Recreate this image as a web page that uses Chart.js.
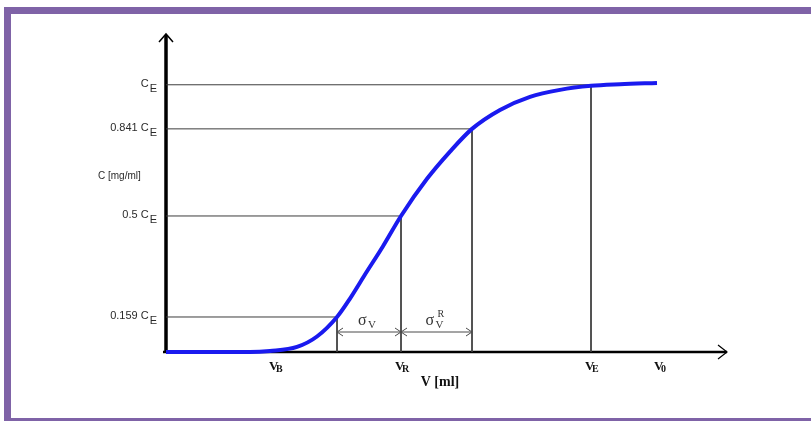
<!DOCTYPE html>
<html>
<head>
<meta charset="utf-8">
<script src="https://cdn.jsdelivr.net/npm/chart.js@4"></script>
<style>
  html, body { margin: 0; padding: 0; background: #fff; }
  #wrap { position: relative; width: 811px; height: 421px; overflow: hidden; }
  #frame { position: absolute; left: 4px; top: 7px; width: 900px; height: 404px;
           border-top: 7px solid #7f63a7; border-left: 7px solid #7f63a7; border-bottom: 6px solid #7f63a7; }
  canvas { position: absolute; left: 0; top: 0; }
</style>
</head>
<body>
<div id="wrap">
  <div id="frame"></div>
  <canvas id="chart" width="811" height="421"></canvas>
</div>
<script>
// breakthrough curve (C in units of C_E)
const curveV = [0, 8.4, 10.4, 13.1, 15.1, 17.1, 18.4, 19.9, 21.7, 23.5, 26.1, 28.4, 30.6, 33.4, 36.4, 39.4, 42.5, 45.4, 49.1];
const curveC = [0, 0, 0.004, 0.019, 0.058, 0.131, 0.200, 0.290, 0.396, 0.509, 0.648, 0.750, 0.835, 0.906, 0.955, 0.981, 0.996, 1.002, 1.007];

// guide levels on the C axis and where they meet the curve
const levelText  = ['0.159 ', '0.5 ', '0.841 ', ''];
const levelC     = [0.131, 0.509, 0.835, 1.0];
const levelV     = [17.1, 23.5, 30.6, 42.5];

// marks on the V axis
const vMarks  = [10.9, 23.5, 42.5, 49.4];
const vSubs   = ['B', 'R', 'E', '0'];

const X_MAX = 56.1;
const Y_MAX = 1.19;

const guideSets = levelC.map((c, i) => ({
  data: [{ x: 0, y: c }, { x: levelV[i], y: c }, { x: levelV[i], y: 0 }],
  borderColor: '#3c3c3c',
  borderWidth: 1,
  pointRadius: 0,
  tension: 0,
  clip: false,
  order: 2,
}));

const axesPlugin = {
  id: 'axes',
  beforeDatasetsDraw(chart) {
    const { ctx, chartArea: a } = chart;
    ctx.save();
    ctx.strokeStyle = '#000';
    // y axis
    ctx.lineWidth = 3.5;
    ctx.beginPath();
    ctx.moveTo(a.left, a.bottom + 1);
    ctx.lineTo(a.left, a.top + 1);
    ctx.stroke();
    ctx.lineWidth = 1.5;
    ctx.beginPath();
    ctx.moveTo(a.left - 7, a.top + 8);
    ctx.lineTo(a.left, a.top);
    ctx.lineTo(a.left + 7, a.top + 8);
    ctx.stroke();
    // x axis
    ctx.lineWidth = 2.5;
    ctx.beginPath();
    ctx.moveTo(a.left - 3, a.bottom);
    ctx.lineTo(a.right, a.bottom);
    ctx.stroke();
    ctx.lineWidth = 1.2;
    ctx.beginPath();
    ctx.moveTo(a.right - 9, a.bottom - 7);
    ctx.lineTo(a.right, a.bottom);
    ctx.lineTo(a.right - 9, a.bottom + 7);
    ctx.stroke();
    ctx.restore();
  },
  afterDraw(chart) {
    const { ctx, chartArea: a, scales: { x, y } } = chart;
    ctx.save();
    ctx.fillStyle = '#2a2a2a';
    ctx.textBaseline = 'alphabetic';

    // y labels: "<k> C_E"
    levelC.forEach((c, i) => {
      const py = y.getPixelForValue(c);
      const right = a.left - 9;
      ctx.font = '11px "Liberation Sans", Arial, sans-serif';
      ctx.textAlign = 'right';
      ctx.fillText('E', right, py + 7);
      const wE = ctx.measureText('E').width;
      ctx.fillText(levelText[i] + 'C', right - wE - 1, py + 2);
    });
    ctx.font = '10px "Liberation Sans", Arial, sans-serif';
    ctx.textAlign = 'left';
    ctx.fillText('C [mg/ml]', 98, 179);

    // V axis marks
    ctx.fillStyle = '#111';
    vMarks.forEach((v, i) => {
      const px = x.getPixelForValue(v);
      ctx.font = 'bold 13px "Liberation Serif", "Times New Roman", serif';
      ctx.textAlign = 'left';
      ctx.fillText('V', px - 6, a.bottom + 18);
      ctx.font = 'bold 10px "Liberation Serif", "Times New Roman", serif';
      ctx.fillText(vSubs[i], px + 1, a.bottom + 20);
    });
    ctx.font = 'bold 14px "Liberation Serif", "Times New Roman", serif';
    ctx.textAlign = 'center';
    ctx.fillText('V [ml]', x.getPixelForValue(27.4), a.bottom + 34);

    // sigma arrows
    const ay = a.bottom - 20;
    const x1 = x.getPixelForValue(levelV[0]);
    const x2 = x.getPixelForValue(levelV[1]);
    const x3 = x.getPixelForValue(levelV[2]);
    ctx.strokeStyle = '#4a4a4a';
    ctx.lineWidth = 1;
    ctx.beginPath();
    ctx.moveTo(x1, ay); ctx.lineTo(x3, ay);
    [[x1, 1], [x2, -1], [x2, 1], [x3, -1]].forEach(([px, d]) => {
      ctx.moveTo(px + d * 6, ay - 4); ctx.lineTo(px, ay); ctx.lineTo(px + d * 6, ay + 4);
    });
    ctx.stroke();

    ctx.fillStyle = '#333';
    ctx.textAlign = 'left';
    ctx.font = '16px "Liberation Serif", "Times New Roman", serif';
    ctx.fillText('\u03C3', (x1 + x2) / 2 - 11, ay - 7);
    ctx.font = '11px "Liberation Serif", "Times New Roman", serif';
    ctx.fillText('V', (x1 + x2) / 2 - 1, ay - 4);
    ctx.font = '16px "Liberation Serif", "Times New Roman", serif';
    ctx.fillText('\u03C3', (x2 + x3) / 2 - 11, ay - 7);
    ctx.font = '11px "Liberation Serif", "Times New Roman", serif';
    ctx.fillText('V', (x2 + x3) / 2 - 1, ay - 4);
    ctx.font = '10px "Liberation Serif", "Times New Roman", serif';
    ctx.fillText('R', (x2 + x3) / 2 + 1, ay - 15);
    ctx.restore();
  }
};

new Chart(document.getElementById('chart'), {
  type: 'line',
  data: {
    datasets: [
      {
        data: curveV.map((v, i) => ({ x: v, y: curveC[i] })),
        borderColor: '#1a1aef',
        borderWidth: 4,
        pointRadius: 0,
        cubicInterpolationMode: 'monotone',
        clip: false,
        order: 0,
      },
      ...guideSets,
    ]
  },
  options: {
    responsive: false,
    animation: false,
    devicePixelRatio: 1,
    layout: { padding: { left: 166, right: 84, top: 34, bottom: 69 } },
    plugins: { legend: { display: false }, tooltip: { enabled: false } },
    scales: {
      x: { type: 'linear', min: 0, max: X_MAX, display: false },
      y: { type: 'linear', min: 0, max: Y_MAX, display: false },
    }
  },
  plugins: [axesPlugin]
});
</script>
</body>
</html>
